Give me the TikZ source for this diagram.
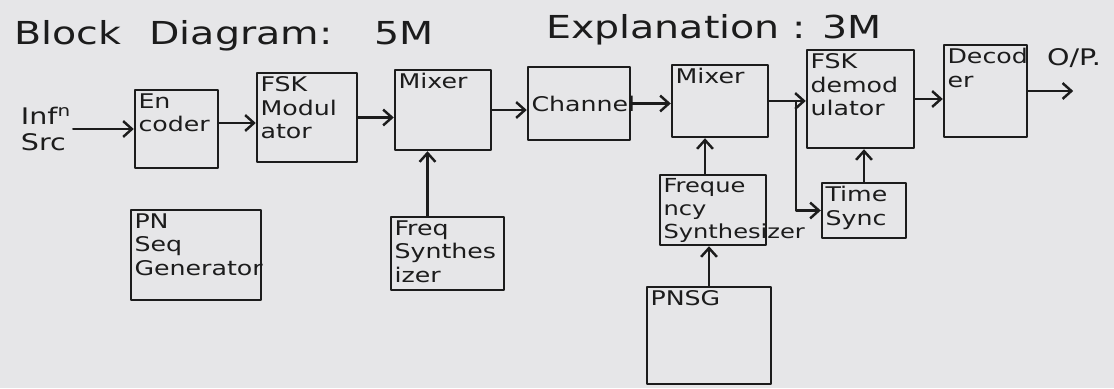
\documentclass[tikz,border=0pt]{standalone}
\usepackage{fontspec}
\newfontfamily\hand[FakeStretch=1.25]{DejaVu Sans}
\usetikzlibrary{arrows.meta,calc}
\definecolor{paper}{HTML}{E6E6E8}
\definecolor{ink}{HTML}{1C1C1C}
% block text sits in the top left corner of a box of given outer size
\newcommand{\blk}[4][t]{\parbox[t][\dimexpr#3-4pt\relax][#1]{\dimexpr#2-4pt\relax}{\raggedright#4}}
\tikzset{
  every picture/.style={line join=round, line cap=round, >={Straight Barb[length=5pt,width=9pt]}},
  box/.style={draw=ink, line width=1.4pt, inner sep=2pt, text=ink, font=\hand\fontsize{11.5}{13.5}\selectfont},
  lbl/.style={inner sep=1pt, align=left, text=ink, font=\hand\fontsize{13}{15}\selectfont},
  title/.style={inner sep=0pt, text=ink, font=\hand\fontsize{18}{21}\selectfont},
  flow/.style={->, draw=ink, line width=1.4pt},
}

\begin{document}
\begin{tikzpicture}
\fill[paper](0,0) rectangle (22.28,7.76);
\node[title] (head) at (4.48,7.04) {Block\hspace{0.5em} Diagram:\hspace{0.8em} 5M};
\node[title] (marks) at (14.28,7.16) {Explanation : 3M};
% transmitter
\node[lbl] (src) at (0.92,5.18) {Inf\textsuperscript{n}\\Src};
\node[box] (enc) at (3.53,5.18) {\blk{1.66cm}{1.56cm}{En\\coder}};
\node[box] (fskmod) at (6.14,5.41) {\blk{2.00cm}{1.78cm}{FSK\\Modul\\ator}};
\node[box] (mix1) at (8.86,5.56) {\blk{1.92cm}{1.60cm}{Mixer}};
\node[box] (chan) at (11.58,5.69) {\blk[c]{2.04cm}{1.46cm}{Channel}};
% receiver
\node[box] (mix2) at (14.40,5.74) {\blk{1.92cm}{1.44cm}{Mixer}};
\node[box] (fskdem) at (17.21,5.78) {\blk{2.14cm}{1.96cm}{FSK\\demod\\ulator}};
\node[box] (dec) at (19.71,5.94) {\blk{1.66cm}{1.84cm}{Decod\\er}};
% lower row
\node[box] (pn) at (3.92,2.66) {\blk{2.60cm}{1.80cm}{PN\\Seq\\Generator}};
\node[box] (fsyn1) at (8.95,2.69) {\blk{2.26cm}{1.46cm}{Freq\\Synthes\\izer}};
\node[box,font=\hand\fontsize{11}{13}\selectfont] (fsyn2) at (14.26,3.56) {\blk{2.12cm}{1.40cm}{Freque\\ncy\\Synthesizer}};
\node[box] (tsync) at (17.28,3.55) {\blk{1.68cm}{1.10cm}{Time\\Sync}};
\node[box] (pnsg) at (14.18,1.05) {\blk{2.48cm}{1.94cm}{PNSG}};
% signal path
\draw[flow](src)--(enc);
\coordinate (e1) at ([yshift=1.2mm]enc.east);
\draw[flow](e1)--(e1 -| fskmod.west);
\draw[flow](fskmod.east)--(fskmod.east -| mix1.west);
\draw[flow](mix1.east)--(mix1.east -| chan.west);
\draw[flow](chan.east)--(chan.east -| mix2.west);
\draw[flow](mix2.east)--(mix2.east -| fskdem.west);
\draw[flow](fskdem.east)--(fskdem.east -| dec.west);
\coordinate (out) at ($(dec.east)+(0.9,0)$);
\draw[flow](dec.east)--(out);
\node[lbl] (op) at (21.48,6.60) {O/P.};
% side inputs
\coordinate (br) at ($(mix2.east)+(0.54,0)$);
\draw[flow](br)|-(tsync.west);
\coordinate (f1) at ([xshift=-4mm]fsyn1.north);
\draw[flow](f1)--(f1 |- mix1.south);
\coordinate (f2) at ([xshift=-1.6mm]fsyn2.north);
\draw[flow](f2)--(f2 |- mix2.south);
\draw[flow](pnsg.north)--(pnsg.north |- fsyn2.south);
\draw[flow](tsync.north)--(tsync.north |- fskdem.south);
\end{tikzpicture}
\end{document}
